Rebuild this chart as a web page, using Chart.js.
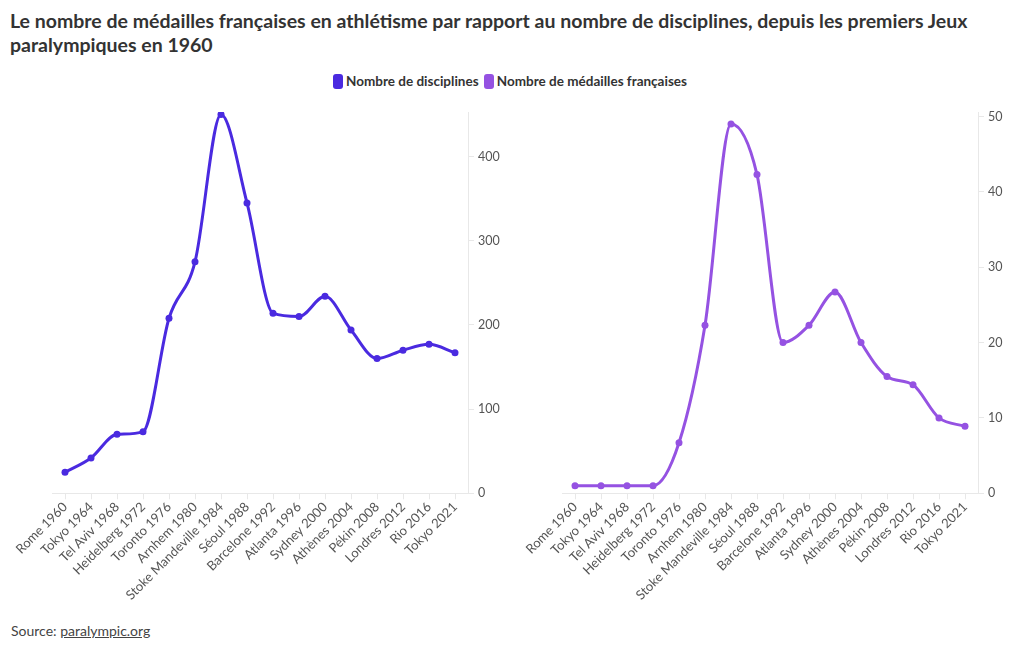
<!DOCTYPE html>
<html lang="fr">
<head>
<meta charset="utf-8">
<script src="https://cdn.jsdelivr.net/npm/chart.js@4"></script>
<style>
  body { margin: 0; background: #fff; font-family: Lato, "Open Sans", sans-serif; color: #333; }
  #wrap { position: relative; width: 1020px; height: 650px; overflow: hidden; }
  h1 { position: absolute; left: 10px; top: 9px; width: 1005px; margin: 0; font-size: 19.5px; line-height: 24px; font-weight: 700; color: #333; }
  #legend { position: absolute; top: 73px; left: 0; width: 1020px; text-align: center; font-size: 13.5px; font-weight: 700; color: #333; }
  #legend span.item { margin: 0 1px; white-space: nowrap; }
  #legend i { display: inline-block; width: 10px; height: 15px; border-radius: 3px; vertical-align: -3px; margin-right: 3px; }
  .box { position: absolute; top: 100px; height: 510px; width: 510px; }
  #src { position: absolute; left: 11px; top: 622px; font-size: 14px; color: #444; }
  #src a { color: #444; text-decoration: underline; }
</style>
</head>
<body>
<div id="wrap">
  <h1>Le nombre de médailles françaises en athlétisme par rapport au nombre de disciplines, depuis les premiers Jeux paralympiques en 1960</h1>
  <div id="legend"></div>
  <div class="box" style="left:0"><canvas id="left"></canvas></div>
  <div class="box" style="left:510px"><canvas id="right"></canvas></div>
  <div id="src">Source: <a href="#">paralympic.org</a></div>
</div>
<script>
const categories = ['Rome 1960', 'Tokyo 1964', 'Tel Aviv 1968', 'Heidelberg 1972', 'Toronto 1976', 'Arnhem 1980',
  'Stoke Mandeville 1984', 'Séoul 1988', 'Barcelone 1992', 'Atlanta 1996', 'Sydney 2000', 'Athènes 2004',
  'Pékin 2008', 'Londres 2012', 'Rio 2016', 'Tokyo 2021'];
const disciplines = [25, 42, 70, 73, 208, 275, 450, 345, 214, 210, 234, 194, 160, 170, 177, 167];
const medailles = [1, 1, 1, 1, 6.7, 22.3, 49, 42.3, 20, 22.3, 26.7, 20, 15.5, 14.4, 10, 8.9];
const leftTicks = [0, 100, 200, 300, 400];
const rightTicks = [0, 10, 20, 30, 40, 50];

const blue = '#4a2ae0';
const purple = '#9552e2';
const font = 'Lato, "Open Sans", sans-serif';

document.getElementById('legend').innerHTML =
  `<span class="item"><i style="background:${blue}"></i>Nombre de disciplines</span> ` +
  `<span class="item"><i style="background:${purple}"></i>Nombre de médailles françaises</span>`;

function makeChart(id, label, values, color, yMax, tickList, padLeft) {
  return new Chart(document.getElementById(id), {
    type: 'line',
    data: {
      labels: categories,
      datasets: [{
        label: label,
        data: values,
        borderColor: color,
        backgroundColor: color,
        borderWidth: 3,
        pointRadius: 3.5,
        pointBorderWidth: 0,
        cubicInterpolationMode: 'monotone'
      }]
    },
    options: {
      responsive: true,
      maintainAspectRatio: false,
      animation: false,
      layout: { padding: { left: padLeft, right: 2, top: 12, bottom: 7 } },
      plugins: { legend: { display: false }, tooltip: { enabled: false } },
      scales: {
        x: {
          offset: true,
          grid: { display: true, drawOnChartArea: false, color: '#e8e8e8', tickLength: 6 },
          border: { color: '#e8e8e8' },
          ticks: { maxRotation: 45, minRotation: 45, autoSkip: false, color: '#555', font: { family: font, size: 13 }, padding: 0 }
        },
        y: {
          position: 'right',
          min: 0,
          max: yMax,
          grid: { display: true, drawOnChartArea: false, color: '#e8e8e8', tickLength: 6 },
          border: { color: '#e8e8e8' },
          afterBuildTicks: (scale) => { scale.ticks = tickList.map(v => ({ value: v })); },
          afterFit: (scale) => { scale.width = 40; },
          ticks: { color: '#555', font: { family: font, size: 12.5 }, padding: 4 }
        }
      }
    }
  });
}

makeChart('left', 'Nombre de disciplines', disciplines, blue, 453, leftTicks, 52);
makeChart('right', 'Nombre de médailles françaises', medailles, purple, 50.6, rightTicks, 52);
</script>
</body>
</html>
